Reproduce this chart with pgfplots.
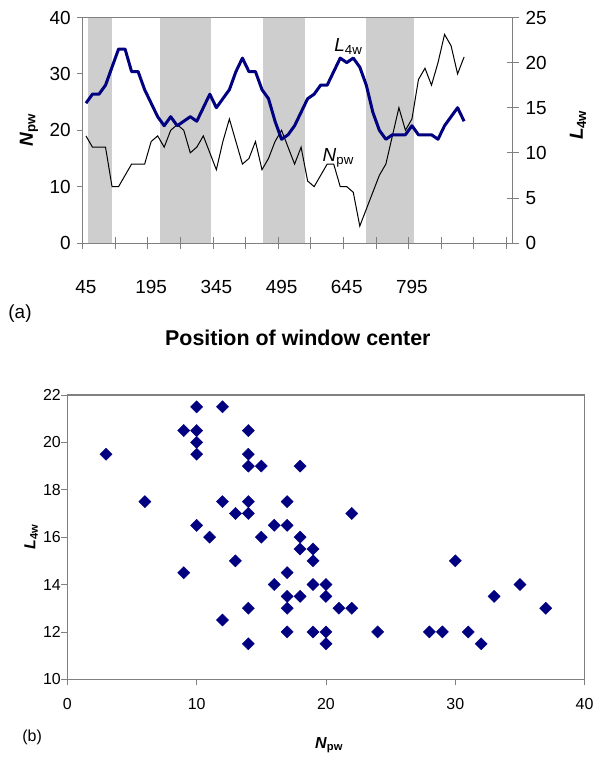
\documentclass[border=0pt]{standalone}
\usepackage{fontspec}
\setmainfont{Liberation Sans}
\usepackage{pgfplots}
\pgfplotsset{compat=1.18}
\usepackage{pgfplotstable}

\definecolor{navyb}{RGB}{0,0,128}
\definecolor{axgray}{RGB}{128,128,128}
\definecolor{band}{RGB}{206,206,206}
\newcommand{\ftop}{\fontsize{19}{22}\selectfont}
\newcommand{\fxl}{\fontsize{21.5}{24}\selectfont}
\newcommand{\fbot}{\fontsize{16}{19}\selectfont}

\pgfplotstableread{
c npw l4w
0 19 15.5
1 17 16.5
2 17 16.5
3 17 17.5
4 10 19.5
5 10 21.5
6 12 21.5
7 14 19
8 14 19
9 14 17
10 18 15.5
11 19 14
12 17 13
13 20 14
14 21 13
15 20 13.5
16 16 14
17 17 13.5
18 19 15
19 16 16.5
20 13 15
21 18 16
22 22 17
23 18 19
24 14 20.5
25 15 19
26 18 19
27 13 17
28 15 16
29 18 13.5
30 20 11.5
31 17 12
32 14 13
33 17 14.5
34 11 16
35 10 16.5
36 12 17.5
37 14 17.5
38 14 19
39 10 20.5
40 10 20
41 9 20.5
42 3 19.5
43 6 17.5
44 9 14.5
45 12 12.5
46 14 11.5
47 19 12
48 24 12
49 20 12
50 22 13
51 29 12
52 31 12
53 28 12
54 32 11.5
55 37 13
56 35 14
57 30 15
58 33 13.5
}\series

\pgfplotstableread{
npw l4w
10 21.5
12 21.5
9 20.5
10 20.5
14 20.5
10 20
3 19.5
10 19.5
14 19.5
14 19
15 19
18 19
6 17.5
12 17.5
14 17.5
17 17.5
13 17
14 17
22 17
10 16.5
16 16.5
17 16.5
11 16
15 16
18 16
18 15.5
19 15.5
13 15
19 15
30 15
9 14.5
17 14.5
16 14
19 14
20 14
35 14
17 13.5
18 13.5
20 13.5
33 13.5
14 13
17 13
21 13
22 13
37 13
12 12.5
17 12
19 12
20 12
24 12
28 12
29 12
31 12
14 11.5
20 11.5
32 11.5
}\scatter

\begin{document}
\begin{tikzpicture}
\useasboundingbox (0bp,0bp) rectangle (602bp,-758bp);

% ---------- (a) left axis: N_pw ----------
\begin{axis}[
  at={(82.7bp,-243bp)}, anchor=south west, scale only axis,
  width=430.3bp, height=225.5bp,
  xmin=-0.5, xmax=65.5, ymin=0, ymax=40,
  xtick=\empty, ytick={0,10,20,30,40}, ytick pos=left,
  tick align=outside, major tick length=5.5bp,
  axis line style={draw=axgray, line width=1bp},
  every tick/.style={draw=axgray, line width=0.8bp},
  tick label style={font=\ftop},
  yticklabel style={xshift=-3bp},
  /pgf/number format/assume math mode=true,
  ylabel={\textbf{\textit{N}}\textsubscript{\textbf{pw}}},
  ylabel style={font=\ftop, at={(axis description cs:-0.125,0.5)}, anchor=center},
  xlabel={\textbf{Position of window center}},
  xlabel style={font=\fxl, at={(axis description cs:0.5,-0.421)}, anchor=center},
  clip=false,
]
\addplot[fill=band, draw=none] coordinates {(0.3,0) (0.3,40) (4.0,40) (4.0,0)};
\addplot[fill=band, draw=none] coordinates {(11.37,0) (11.37,40) (19.16,40) (19.16,0)};
\addplot[fill=band, draw=none] coordinates {(27.2,0) (27.2,40) (33.65,40) (33.65,0)};
\addplot[fill=band, draw=none] coordinates {(43.0,0) (43.0,40) (50.35,40) (50.35,0)};
\addplot[black, line width=1bp, mark=none] table[x=c, y=npw] {\series};
\node[font=\ftop] at (axis cs:40.25,34.8) {\textit{L}\textsubscript{4w}};
\node[font=\ftop] at (axis cs:38.7,15.1) {\textit{N}\textsubscript{pw}};
\node[font=\ftop] at (axis description cs:-0.1457,-0.315) {(a)};
\end{axis}

% ---------- (a) right axis: L_4w ----------
\begin{axis}[
  at={(82.7bp,-243bp)}, anchor=south west, scale only axis,
  width=430.3bp, height=225.5bp,
  xmin=-0.5, xmax=65.5, ymin=0, ymax=25,
  axis y line*=right, axis x line*=bottom,
  axis line style={draw=axgray, line width=1bp, -},
  every tick/.style={draw=axgray, line width=0.8bp},
  xtick={-0.5,4.5,...,64.5}, xticklabels={},
  extra x ticks={0,10,20,30,40,50},
  extra x tick labels={45,195,345,495,645,795},
  extra x tick style={major tick length=0pt, xticklabel style={yshift=-34bp}},
  ytick={0,5,10,15,20,25},
  tick align=center, major tick length=12bp,
  tick label style={font=\ftop},
  yticklabel style={xshift=3bp},
  /pgf/number format/assume math mode=true,
  ylabel={\textbf{\textit{L}}\textsubscript{\textbf{4w}}},
  ylabel style={font=\ftop, at={(axis description cs:1.151,0.523)}, anchor=center},
]
\addplot[navyb, line width=3bp, line join=round, mark=none] table[x=c, y=l4w] {\series};
\end{axis}

% ---------- (b) scatter ----------
\begin{axis}[
  at={(67.3bp,-679.3bp)}, anchor=south west, scale only axis,
  width=517.3bp, height=284.3bp,
  xmin=0, xmax=40, ymin=10, ymax=22,
  xtick={0,10,20,30,40}, ytick={10,12,14,16,18,20,22},
  xtick pos=bottom, ytick pos=left,
  tick align=outside, major tick length=6bp,
  axis line style={draw=axgray, line width=1.2bp},
  every tick/.style={draw=axgray, line width=0.8bp},
  tick label style={font=\fbot},
  xticklabel style={yshift=-10bp},
  yticklabel style={xshift=3bp},
  /pgf/number format/assume math mode=true,
  ylabel={\textbf{\textit{L}}\textsubscript{\textbf{4w}}},
  ylabel style={font=\fbot, at={(axis description cs:-0.07,0.5)}, anchor=center},
  xlabel={\textbf{\textit{N}}\textsubscript{\textbf{pw}}},
  xlabel style={font=\fbot, at={(axis description cs:0.506,-0.231)}, anchor=center},
  clip=false,
]
\addplot[only marks, mark=square*, mark size=4.3bp,
  mark options={rotate=45, fill=navyb, draw=navyb}] table[x=npw, y=l4w] {\scatter};
\node[font=\fbot] at (axis description cs:-0.068,-0.203) {(b)};
\end{axis}
\end{tikzpicture}
\end{document}
